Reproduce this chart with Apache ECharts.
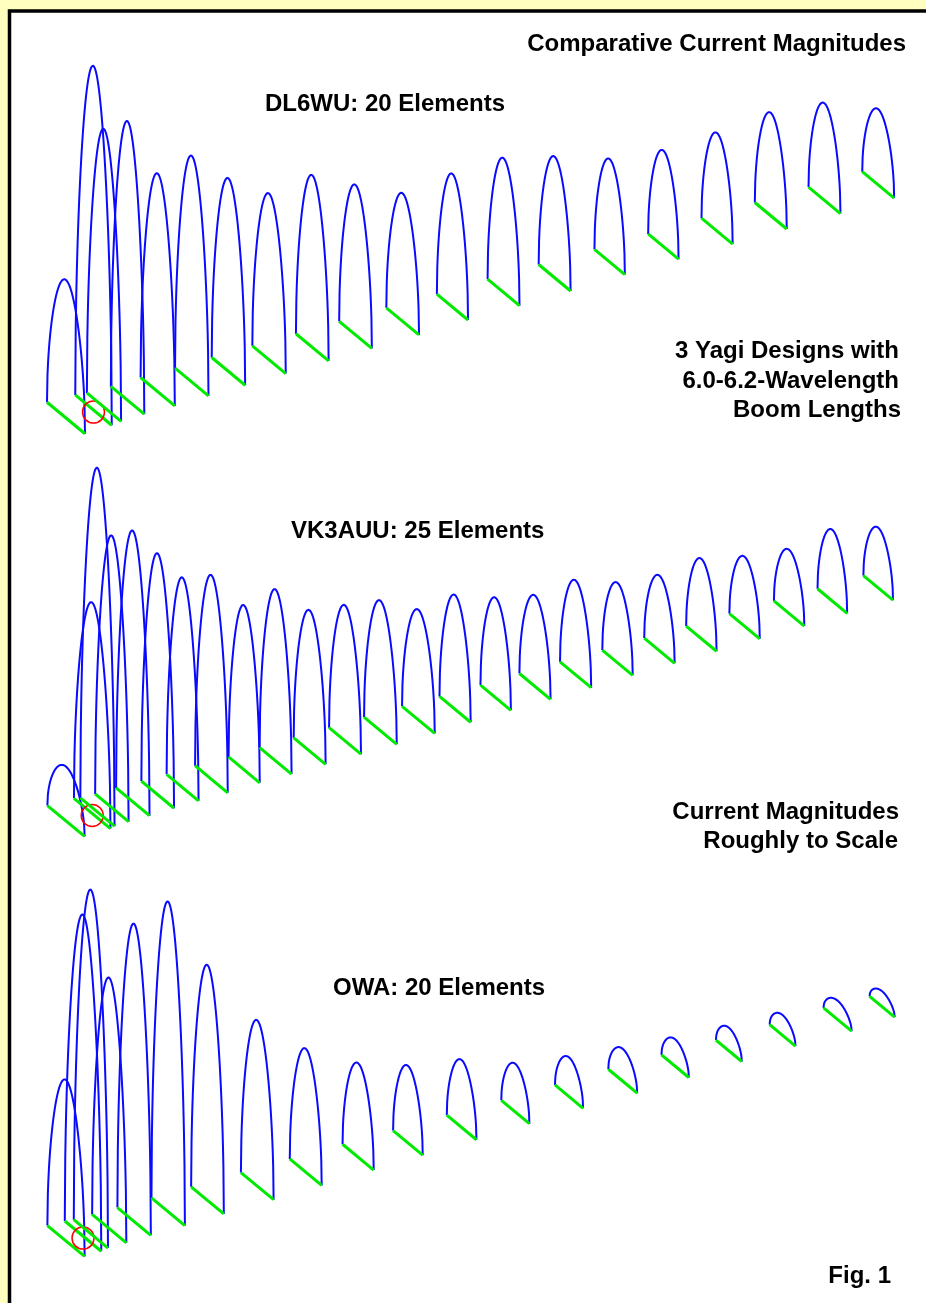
<!DOCTYPE html>
<html>
<head>
<meta charset="utf-8">
<title>Comparative Current Magnitudes</title>
<script src="https://cdn.jsdelivr.net/npm/echarts@6/dist/echarts.min.js"></script>
<style>
html,body{margin:0;padding:0;background:#ffffc0;}
#chart{width:926px;height:1303px;}
</style>
</head>
<body>
<div id="chart"></div>
<script>
// element position along boom (wavelengths), current (% of peak), element length (wavelengths)
var dl6wuPos = [0, 0.21, 0.29, 0.47, 0.70, 0.96, 1.24, 1.55, 1.88, 2.21, 2.57, 2.95, 3.34, 3.73, 4.15, 4.56, 4.97, 5.38, 5.79, 6.20];
var dl6wuCur = [40.1, 100, 80.8, 81.1, 63.4, 65.7, 56.1, 48.3, 50.0, 43.6, 37.2, 38.7, 39.0, 35.2, 29.9, 27.9, 28.5, 29.9, 28.2, 22.0];
var dl6wuLen = [0.50, 0.48, 0.45, 0.44, 0.45, 0.44, 0.44, 0.44, 0.43, 0.43, 0.43, 0.41, 0.42, 0.42, 0.40, 0.40, 0.41, 0.42, 0.42, 0.42];
var dl6wuFeed = 1;

var vk3auuPos = [0, 0.20, 0.24, 0.35, 0.51, 0.70, 0.89, 1.11, 1.36, 1.60, 1.86, 2.13, 2.40, 2.69, 2.97, 3.28, 3.58, 3.89, 4.21, 4.53, 4.85, 5.18, 5.52, 5.85, 6.20];
var vk3auuCur = [15.8, 61.3, 100, 79.1, 78.8, 70.1, 61.0, 59.3, 47.8, 49.8, 40.9, 39.4, 37.8, 32.0, 33.2, 29.0, 26.4, 27.4, 23.2, 21.8, 23.2, 20.2, 18.5, 20.7, 17.5];
var vk3auuLen = [0.49, 0.48, 0.45, 0.44, 0.44, 0.43, 0.42, 0.43, 0.41, 0.42, 0.42, 0.42, 0.43, 0.43, 0.41, 0.40, 0.41, 0.41, 0.40, 0.40, 0.40, 0.40, 0.40, 0.39, 0.39];
var vk3auuFeed = 1;

var owaPos = [0, 0.13, 0.19, 0.33, 0.52, 0.78, 1.08, 1.46, 1.83, 2.23, 2.61, 3.02, 3.43, 3.84, 4.25, 4.65, 5.06, 5.47, 5.89, 6.23];
var owaCur = [46.8, 93.4, 100, 72.9, 86.5, 90.1, 68.4, 48.2, 35.9, 27.3, 22.4, 19.6, 14.0, 11.4, 9.4, 7.8, 6.7, 5.9, 5.5, 4.5];
var owaLen = [0.49, 0.48, 0.45, 0.45, 0.44, 0.44, 0.43, 0.43, 0.42, 0.41, 0.39, 0.39, 0.37, 0.37, 0.38, 0.36, 0.34, 0.34, 0.37, 0.33];
var owaFeed = 1;

var antennaNames = ['DL6WU: 20 Elements', 'VK3AUU: 25 Elements', 'OWA: 20 Elements'];

// oblique view of the booms
var BOOM_RISE = 0.287;     // boom climbs this many px per px to the right
var EL_SHORTEN = 0.58;     // element length foreshortening vs boom scale
var EL_SLOPE = 0.83;       // element wire slant (dy/dx)

var FONT = 'bold 24px "Liberation Sans", Arial, sans-serif';

function makeData(pos, cur, len, feed) {
	var d = [];
	for (var i = 0; i < pos.length; i++) {
		d.push([pos[i], cur[i], len[i], i == feed ? 1 : 0]);
	}
	return d;
}

// current envelope drawn along each element wire, zero at the tips
function envelope(t) {
	return Math.sqrt(Math.max(0, Math.sin(Math.PI * t)));
}

function renderElement(params, api) {
	var origin = api.coord([0, 0]);
	var c = api.coord([api.value(0), 0]);
	var cx = c[0];
	var cy = c[1] - BOOM_RISE * (c[0] - origin[0]);
	var h = api.size([0, api.value(1)])[1];
	var hx = api.size([api.value(2), 0])[0] * EL_SHORTEN / 2;
	var hy = hx * EL_SLOPE;

	var pts = [];
	var n = 80;
	for (var k = 0; k <= n; k++) {
		var t = k / n;
		pts.push([cx - hx + 2 * hx * t, cy - hy + 2 * hy * t - h * envelope(t)]);
	}
	var children = [{
		type: 'polyline',
		shape: {points: pts},
		style: {stroke: '#0a0aff', lineWidth: 2, fill: null}
	}, {
		type: 'line',
		shape: {x1: cx - hx, y1: cy - hy, x2: cx + hx, y2: cy + hy},
		style: {stroke: '#00ea00', lineWidth: 3}
	}];
	if (api.value(3) == 1) {
		children.push({
			type: 'circle',
			shape: {cx: cx, cy: cy + 2, r: 11},
			style: {stroke: '#ff0000', lineWidth: 1.5, fill: null}
		});
	}
	return {type: 'group', children: children};
}

var gridTops = [74, 477, 897];
var grids = [], xAxes = [], yAxes = [], series = [];
var allData = [
	makeData(dl6wuPos, dl6wuCur, dl6wuLen, dl6wuFeed),
	makeData(vk3auuPos, vk3auuCur, vk3auuLen, vk3auuFeed),
	makeData(owaPos, owaCur, owaLen, owaFeed)
];
for (var g = 0; g < 3; g++) {
	grids.push({left: 66, top: gridTops[g], width: 6.3 * 131, height: 344});
	xAxes.push({type: 'value', gridIndex: g, min: 0, max: 6.3, show: false});
	yAxes.push({type: 'value', gridIndex: g, min: 0, max: 100, show: false});
	series.push({
		name: antennaNames[g],
		type: 'custom',
		xAxisIndex: g,
		yAxisIndex: g,
		clip: false,
		silent: true,
		renderItem: renderElement,
		data: allData[g]
	});
}

function label(text, x, y, align) {
	return {
		type: 'text', z: 100,
		style: {text: text, x: x, y: y, align: align, verticalAlign: 'middle', font: FONT, fill: '#000'}
	};
}

var chart = echarts.init(document.getElementById('chart'));
chart.setOption({
	backgroundColor: '#ffffc0',
	animation: false,
	grid: grids,
	xAxis: xAxes,
	yAxis: yAxes,
	graphic: [
		{type: 'rect', z: -10, shape: {x: 9.5, y: 11, width: 1000, height: 1400},
			style: {fill: '#ffffff', stroke: '#000000', lineWidth: 3.5}},
		label('Comparative Current Magnitudes', 906, 44, 'right'),
		label(antennaNames[0], 265, 104, 'left'),
		label('3 Yagi Designs with', 899, 351, 'right'),
		label('6.0-6.2-Wavelength', 899, 381, 'right'),
		label('Boom Lengths', 901, 410, 'right'),
		label(antennaNames[1], 291, 531, 'left'),
		label('Current Magnitudes', 899, 812, 'right'),
		label('Roughly to Scale', 898, 841, 'right'),
		label(antennaNames[2], 333, 988, 'left'),
		label('Fig. 1', 891, 1276, 'right')
	],
	series: series
});
</script>
</body>
</html>
